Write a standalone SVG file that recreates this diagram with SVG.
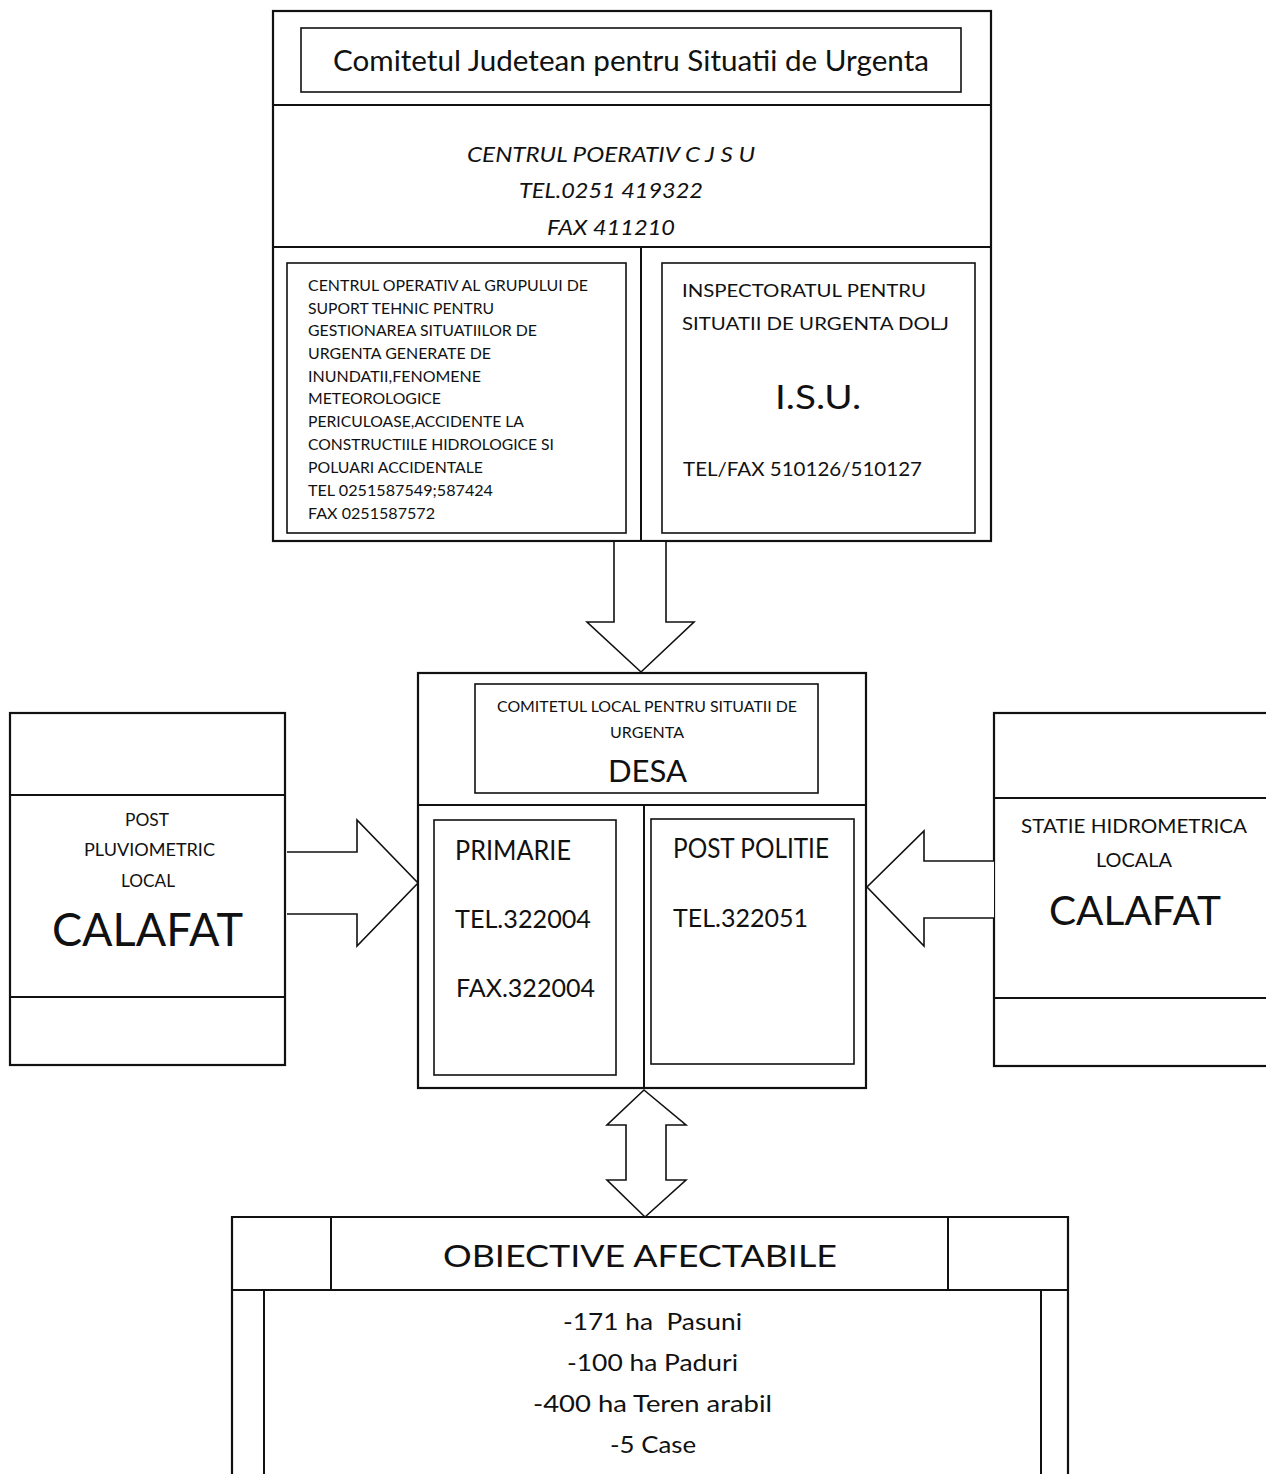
<svg xmlns="http://www.w3.org/2000/svg" width="1266" height="1474" viewBox="0 0 1266 1474">
<style>
.b{fill:#fff;stroke:#111;stroke-width:2.2}
.i{fill:none;stroke:#111;stroke-width:1.6}
.l{stroke:#111;stroke-width:2;fill:none}
.a{fill:#fff;stroke:#111;stroke-width:1.6;stroke-linejoin:miter}
text{font-family:Lato,"Open Sans","Liberation Sans",sans-serif;fill:#111}
</style>
<rect width="1266" height="1474" fill="#fff"/>
<g id="cjsu">
<rect class="b" x="273" y="11" width="718" height="530"/>
<rect class="i" x="301" y="28" width="660" height="64"/>
<text x="333" y="71" font-size="28" textLength="596" lengthAdjust="spacingAndGlyphs">Comitetul Judetean pentru Situatii de Urgenta</text>
<line class="l" x1="273" y1="105" x2="991" y2="105"/>
<text x="467" y="162" font-size="21" font-style="italic" textLength="288" lengthAdjust="spacingAndGlyphs">CENTRUL POERATIV C J S U</text>
<text x="519" y="198" font-size="21" font-style="italic" textLength="184" lengthAdjust="spacingAndGlyphs">TEL.0251 419322</text>
<text x="547" y="235" font-size="21" font-style="italic" textLength="128" lengthAdjust="spacingAndGlyphs">FAX 411210</text>
<line class="l" x1="273" y1="247" x2="991" y2="247"/>
<line class="l" x1="641" y1="247" x2="641" y2="541"/>
</g>
<g id="cogst">
<rect class="i" x="287" y="263" width="339" height="270"/>
<g font-size="14.5">
<text x="308" y="291" textLength="280" lengthAdjust="spacingAndGlyphs">CENTRUL OPERATIV AL GRUPULUI DE</text>
<text x="308" y="314" textLength="186" lengthAdjust="spacingAndGlyphs">SUPORT TEHNIC PENTRU</text>
<text x="308" y="336" textLength="229" lengthAdjust="spacingAndGlyphs">GESTIONAREA SITUATIILOR DE</text>
<text x="308" y="359" textLength="183" lengthAdjust="spacingAndGlyphs">URGENTA GENERATE DE</text>
<text x="308" y="382" textLength="173" lengthAdjust="spacingAndGlyphs">INUNDATII,FENOMENE</text>
<text x="308" y="404" textLength="133" lengthAdjust="spacingAndGlyphs">METEOROLOGICE</text>
<text x="308" y="427" textLength="216" lengthAdjust="spacingAndGlyphs">PERICULOASE,ACCIDENTE LA</text>
<text x="308" y="450" textLength="246" lengthAdjust="spacingAndGlyphs">CONSTRUCTIILE HIDROLOGICE SI</text>
<text x="308" y="473" textLength="175" lengthAdjust="spacingAndGlyphs">POLUARI ACCIDENTALE</text>
<text x="308" y="496" textLength="185" lengthAdjust="spacingAndGlyphs">TEL 0251587549;587424</text>
<text x="308" y="519" textLength="127" lengthAdjust="spacingAndGlyphs">FAX 0251587572</text>
</g>
</g>
<g id="isu">
<rect class="i" x="662" y="263" width="313" height="270"/>
<text x="682" y="297" font-size="18" textLength="244" lengthAdjust="spacingAndGlyphs">INSPECTORATUL PENTRU</text>
<text x="682" y="330" font-size="18" textLength="267" lengthAdjust="spacingAndGlyphs">SITUATII DE URGENTA DOLJ</text>
<text x="775" y="409" font-size="32" textLength="86" lengthAdjust="spacingAndGlyphs">I.S.U.</text>
<text x="683" y="476" font-size="19" textLength="239" lengthAdjust="spacingAndGlyphs">TEL/FAX 510126/510127</text>
</g>
<g id="clsu">
<rect class="b" x="418" y="673" width="448" height="415"/>
<rect class="i" x="475" y="684" width="343" height="109"/>
<text x="497" y="712" font-size="15" textLength="300" lengthAdjust="spacingAndGlyphs">COMITETUL LOCAL PENTRU SITUATII DE</text>
<text x="610" y="738" font-size="15" textLength="74" lengthAdjust="spacingAndGlyphs">URGENTA</text>
<text x="608" y="782" font-size="30" textLength="79" lengthAdjust="spacingAndGlyphs">DESA</text>
<line class="l" x1="418" y1="805" x2="866" y2="805"/>
<line class="l" x1="644" y1="805" x2="644" y2="1088"/>
</g>
<g id="primarie">
<rect class="i" x="434" y="820" width="182" height="255"/>
<text x="455" y="860" font-size="26" textLength="116" lengthAdjust="spacingAndGlyphs">PRIMARIE</text>
<text x="455" y="928" font-size="25" textLength="136" lengthAdjust="spacingAndGlyphs">TEL.322004</text>
<text x="456" y="997" font-size="25" textLength="139" lengthAdjust="spacingAndGlyphs">FAX.322004</text>
</g>
<g id="politie">
<rect class="i" x="651" y="819" width="203" height="245"/>
<text x="673" y="858" font-size="26" textLength="156" lengthAdjust="spacingAndGlyphs">POST POLITIE</text>
<text x="673" y="927" font-size="25" textLength="135" lengthAdjust="spacingAndGlyphs">TEL.322051</text>
</g>
<g id="pluvio">
<rect class="b" x="10" y="713" width="275" height="352"/>
<line class="l" x1="10" y1="795" x2="285" y2="795"/>
<line class="l" x1="10" y1="997" x2="285" y2="997"/>
<text x="125" y="826" font-size="18" textLength="44" lengthAdjust="spacingAndGlyphs">POST</text>
<text x="84" y="856" font-size="18" textLength="131" lengthAdjust="spacingAndGlyphs">PLUVIOMETRIC</text>
<text x="121" y="887" font-size="18" textLength="54" lengthAdjust="spacingAndGlyphs">LOCAL</text>
<text x="52" y="946" font-size="46" textLength="191" lengthAdjust="spacingAndGlyphs">CALAFAT</text>
</g>
<g id="hidro">
<rect class="b" x="994" y="713" width="280" height="353"/>
<line class="l" x1="994" y1="798" x2="1266" y2="798"/>
<line class="l" x1="994" y1="998" x2="1266" y2="998"/>
<text x="1021" y="833" font-size="18.5" textLength="226" lengthAdjust="spacingAndGlyphs">STATIE HIDROMETRICA</text>
<text x="1096" y="867" font-size="18.5" textLength="76" lengthAdjust="spacingAndGlyphs">LOCALA</text>
<text x="1049" y="925" font-size="40" textLength="172" lengthAdjust="spacingAndGlyphs">CALAFAT</text>
</g>
<g id="obiective">
<path class="b" d="M232 1474 V1217 H1068 V1474"/>
<line class="l" x1="232" y1="1290" x2="1068" y2="1290"/>
<line class="l" x1="331" y1="1217" x2="331" y2="1290"/>
<line class="l" x1="948" y1="1217" x2="948" y2="1290"/>
<line class="l" x1="264" y1="1290" x2="264" y2="1474"/>
<line class="l" x1="1041" y1="1290" x2="1041" y2="1474"/>
<text x="443" y="1267" font-size="31" textLength="394" lengthAdjust="spacingAndGlyphs">OBIECTIVE AFECTABILE</text>
<text x="563" y="1330" font-size="23" textLength="179" lengthAdjust="spacingAndGlyphs" xml:space="preserve">-171 ha  Pasuni</text>
<text x="567" y="1371" font-size="23" textLength="171" lengthAdjust="spacingAndGlyphs">-100 ha Paduri</text>
<text x="533" y="1412" font-size="23" textLength="239" lengthAdjust="spacingAndGlyphs">-400 ha Teren arabil</text>
<text x="610" y="1453" font-size="23" textLength="86" lengthAdjust="spacingAndGlyphs">-5 Case</text>
</g>
<g id="connectors">
<path class="a" d="M614 542 V622 H587 L641 672 L694 622 H666 V542"/>
<path class="a" d="M287 852 H357 V820 L418 883 L357 946 V914 H287"/>
<path class="a" d="M994 861 H924 V831 L867 887 L924 946 V918 H994"/>
<path class="a" d="M644 1090 L686 1125 H666 V1180 H686 L645 1217 L607 1180 H626 V1125 H607 Z"/>
</g>
</svg>
